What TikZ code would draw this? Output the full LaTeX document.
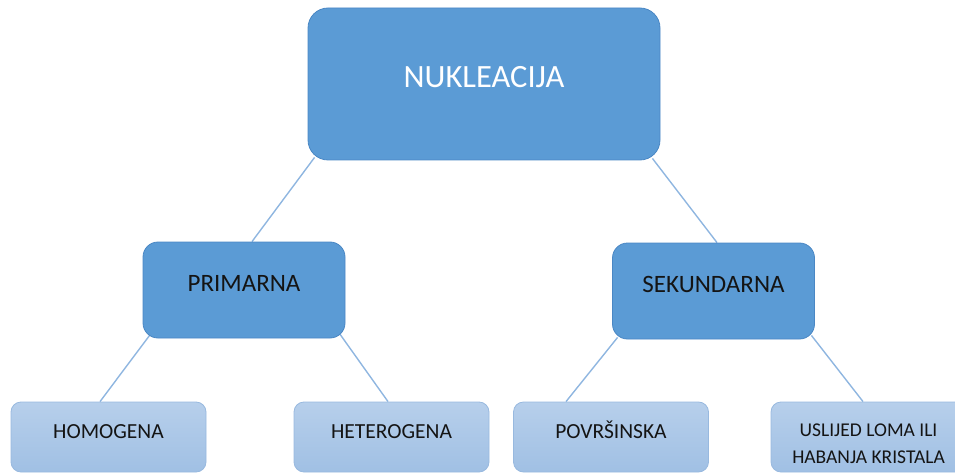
\documentclass[tikz,border=0pt]{standalone}
\usepackage{fontspec}
\setmainfont{Carlito}
\usepackage{xcolor}
\usetikzlibrary{positioning}
\usetikzlibrary{backgrounds}
\definecolor{rootblue}{HTML}{5B9BD5}
\definecolor{rootedge}{HTML}{4A87C4}
\definecolor{leaftop}{HTML}{B7CFEB}
\definecolor{leafbot}{HTML}{A0C0E4}
\definecolor{leafedge}{HTML}{98B9DF}
\definecolor{linkblue}{HTML}{8FB6E0}
\tikzset{rootbox/.style={rectangle,rounded corners=20pt,fill=rootblue,draw=rootedge,line width=0.8pt,inner sep=0pt,align=center}}
\tikzset{midbox/.style={rectangle,rounded corners=15pt,fill=rootblue,draw=rootedge,line width=0.8pt,inner sep=0pt,minimum width=202pt,text height=49pt,text depth=47pt,text=black!92,font=\fontsize{25}{30}\selectfont}}
\tikzset{leafbox/.style={rectangle,rounded corners=10pt,top color=leaftop,bottom color=leafbot,draw=leafedge,line width=0.8pt,inner sep=0pt,minimum width=195pt,minimum height=70pt,text=black!92,align=center}}
\tikzset{leaf/.style={leafbox,text height=36pt,text depth=34pt,font=\fontsize{21.5}{26}\selectfont}}
\tikzset{link/.style={draw=linkblue,line width=1.4pt}}

\begin{document}
\begin{tikzpicture}[x=1pt,y=-1pt]

	\path[use as bounding box,clip] (0,0) rectangle (955,473);

	% root
	\node[rootbox,minimum width=352pt,text height=79.5pt,text depth=72.5pt,text=white,font=\fontsize{32.5}{39}\selectfont] (nuk) at (484,84) {NUKLEACIJA};

	% middle level
	\node[midbox] (prim) at (244,290) {PRIMARNA};
	\node[midbox] (sek) at (713.5,291) {SEKUNDARNA};

	% leaves
	\foreach \x/\txt/\name in {108.5/HOMOGENA/homo, 391.5/HETEROGENA/hetero, 611/POVRŠINSKA/povr} {
		\node[leaf] (\name) at (\x,437) {\txt};
	}
	\node[leafbox,font=\fontsize{19.5}{27}\selectfont] (usl) at (868.5,437) {\rule{0pt}{25.6pt}USLIJED LOMA ILI\\ HABANJA KRISTALA};

	\begin{scope}[on background layer]
		\draw[link] ([xshift=7pt,yshift=3pt]nuk.south west) -- ([xshift=8pt]prim.north);
		\draw[link] ([xshift=-8pt,yshift=2pt]nuk.south east) -- ([xshift=3.5pt]sek.north);
		\draw[link] ([xshift=7pt,yshift=3pt]prim.south west) -- ([xshift=-8.5pt]homo.north);
		\draw[link] ([xshift=-6pt,yshift=5pt]prim.south east) -- ([xshift=-3.5pt]hetero.north);
		\draw[link] ([xshift=5.5pt,yshift=2pt]sek.south west) -- ([xshift=-45pt]povr.north);
		\draw[link] ([xshift=-3.5pt,yshift=4pt]sek.south east) -- ([xshift=-5.5pt]usl.north);
	\end{scope}

\end{tikzpicture}
\end{document}
